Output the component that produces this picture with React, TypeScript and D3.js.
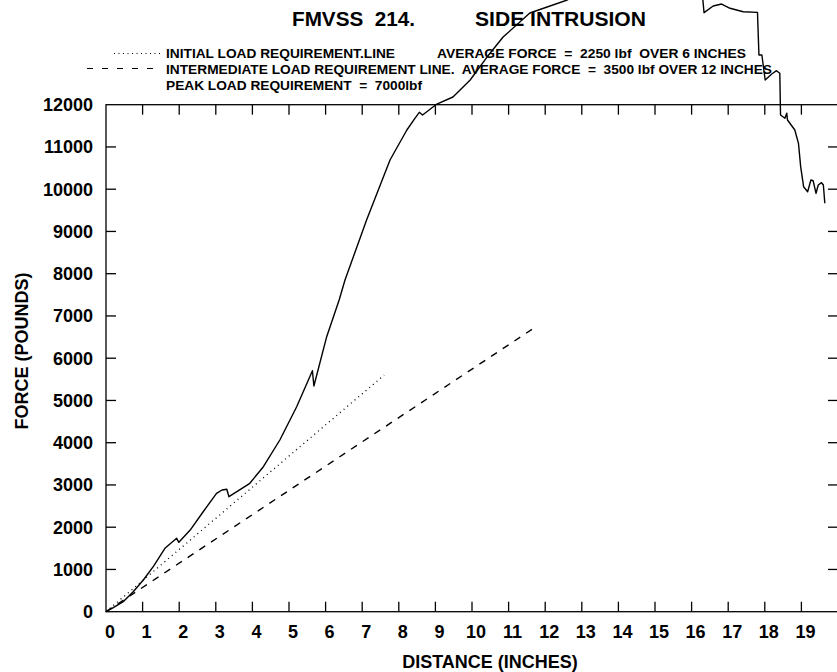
import React, { useEffect, useRef } from "react";
import * as d3 from "d3";

// measured door response (inches, lbf)
const distance = [
  0, 0.2, 0.47, 0.75, 1.02, 1.3, 1.61, 1.93, 1.99, 2.3, 2.65, 3.02, 3.17, 3.3,
  3.36, 3.93, 4.3, 4.75, 5.21, 5.64, 5.68, 6.03, 6.37, 6.53, 7.12, 7.76, 8.22,
  8.44, 8.56, 8.65, 9.04, 9.48, 9.95, 10.41, 10.85, 11.58, 12.6, 13.3, 14.2,
  15.2, 16.0, 16.3, 16.34, 16.59, 16.82, 17.05, 17.41, 17.8, 17.84, 17.92,
  18.01, 18.19, 18.32, 18.41, 18.43, 18.55, 18.6, 18.62, 18.82, 18.92, 18.98,
  19.06, 19.17, 19.26, 19.32, 19.4, 19.46, 19.55, 19.6, 19.64,
];
const force = [
  0, 95, 237, 480, 750, 1080, 1500, 1737, 1642, 1933, 2360, 2800, 2880, 2897,
  2722, 3039, 3432, 4064, 4852, 5704, 5342, 6509, 7378, 7851, 9271, 10691,
  11401, 11678, 11820, 11756, 12016, 12182, 12584, 13128, 13601, 14170, 14478,
  14800, 15100, 15150, 14900, 14550, 14178, 14336, 14383, 14282, 14201, 14186,
  13177, 13177, 12584, 12727, 12805, 12743, 11756, 11678, 11800, 11637, 11401,
  11086, 10533, 10059, 9941, 10218, 10200, 9903, 10099, 10154, 10100, 9666,
];

// requirement lines
const initialDist = [0, 7.6];
const initialForce = [0, 5600];
const intermDist = [0, 11.72];
const intermForce = [0, 6730];

const xTickValues = d3.range(0, 20);
const yTickValues = d3.range(0, 13000, 1000);

const FONT = "'Liberation Sans', Arial, Helvetica, sans-serif";

function drawChart(node: SVGSVGElement) {
  const svg = d3.select(node);
  svg.selectAll("*").remove();

  const left = 106;
  const right = 838;
  const top = 104.7;
  const bottom = 611.7;

  const x = d3.scaleLinear().domain([0, 20]).range([left, right]);
  const y = d3.scaleLinear().domain([0, 12000]).range([bottom, top]);

  const frame = svg.append("g").attr("stroke", "#000").attr("stroke-width", 1.3);
  frame.append("rect")
    .attr("x", left).attr("y", top)
    .attr("width", right - left).attr("height", bottom - top)
    .attr("fill", "none");

  // ticks on all four sides, pointing inwards
  xTickValues.slice(1).forEach((t) => {
    frame.append("line").attr("x1", x(t)).attr("x2", x(t)).attr("y1", bottom).attr("y2", bottom - 10);
    frame.append("line").attr("x1", x(t)).attr("x2", x(t)).attr("y1", top).attr("y2", top + 10);
  });
  yTickValues.slice(1, -1).forEach((t) => {
    frame.append("line").attr("x1", left).attr("x2", left + 10).attr("y1", y(t)).attr("y2", y(t));
    frame.append("line").attr("x1", right - 10).attr("x2", right).attr("y1", y(t)).attr("y2", y(t));
  });

  const labels = svg.append("g")
    .attr("font-family", FONT)
    .attr("font-weight", "bold")
    .attr("font-size", 18)
    .attr("fill", "#000");

  xTickValues.forEach((t) => {
    labels.append("text")
      .attr("x", x(t) + 4).attr("y", 638)
      .attr("text-anchor", "middle")
      .text(t);
  });
  yTickValues.forEach((t) => {
    labels.append("text")
      .attr("x", 93).attr("y", y(t)).attr("dy", "0.36em")
      .attr("text-anchor", "end")
      .text(t);
  });

  labels.append("text")
    .attr("x", 490).attr("y", 668)
    .attr("text-anchor", "middle")
    .text("DISTANCE (INCHES)");
  labels.append("text")
    .attr("transform", "translate(28,351) rotate(-90)")
    .attr("text-anchor", "middle")
    .text("FORCE (POUNDS)");

  // title
  labels.append("text").attr("x", 292).attr("y", 26).attr("font-size", 20)
    .attr("textLength", 123).attr("lengthAdjust", "spacingAndGlyphs")
    .attr("xml:space", "preserve").text("FMVSS  214.");
  labels.append("text").attr("x", 475).attr("y", 26).attr("font-size", 20)
    .attr("textLength", 171).attr("lengthAdjust", "spacingAndGlyphs")
    .text("SIDE INTRUSION");

  // legend
  const legendRows = [
    { x: 166, y: 58, w: 229, t: "INITIAL LOAD REQUIREMENT.LINE" },
    { x: 437, y: 58, w: 309, t: "AVERAGE FORCE  =  2250 lbf  OVER 6 INCHES" },
    { x: 166, y: 74, w: 606, t: "INTERMEDIATE LOAD REQUIREMENT LINE.  AVERAGE FORCE  =  3500 lbf OVER 12 INCHES" },
    { x: 166, y: 90, w: 256, t: "PEAK LOAD REQUIREMENT  =  7000lbf" },
  ];
  legendRows.forEach((r) => {
    labels.append("text")
      .attr("x", r.x).attr("y", r.y).attr("font-size", 13.5)
      .attr("textLength", r.w).attr("lengthAdjust", "spacingAndGlyphs")
      .attr("xml:space", "preserve")
      .text(r.t);
  });
  svg.append("line")
    .attr("x1", 114).attr("x2", 161).attr("y1", 53.5).attr("y2", 53.5)
    .attr("stroke", "#000").attr("stroke-width", 1.1).attr("stroke-dasharray", "1,3.5");
  svg.append("line")
    .attr("x1", 87).attr("x2", 161).attr("y1", 68.5).attr("y2", 68.5)
    .attr("stroke", "#000").attr("stroke-width", 1.1).attr("stroke-dasharray", "6,9");

  const line = d3.line<[number, number]>()
    .x((d) => x(d[0]))
    .y((d) => y(d[1]));

  svg.append("path")
    .datum(d3.zip(initialDist, initialForce) as [number, number][])
    .attr("d", line)
    .attr("fill", "none").attr("stroke", "#000").attr("stroke-width", 1.3)
    .attr("stroke-dasharray", "1,3.8");

  svg.append("path")
    .datum(d3.zip(intermDist, intermForce) as [number, number][])
    .attr("d", line)
    .attr("fill", "none").attr("stroke", "#000").attr("stroke-width", 1.4)
    .attr("stroke-dasharray", "7,7");

  svg.append("path")
    .datum(d3.zip(distance, force) as [number, number][])
    .attr("d", line)
    .attr("fill", "none").attr("stroke", "#000").attr("stroke-width", 1.4)
    .attr("stroke-linejoin", "round");
}

export default function App() {
  const ref = useRef<SVGSVGElement>(null);

  useEffect(() => {
    if (ref.current) drawChart(ref.current);
  }, []);

  return (
    <svg
      ref={ref}
      width={837}
      height={672}
      style={{ position: "absolute", left: 0, top: 0, background: "#fff" }}
    />
  );
}
